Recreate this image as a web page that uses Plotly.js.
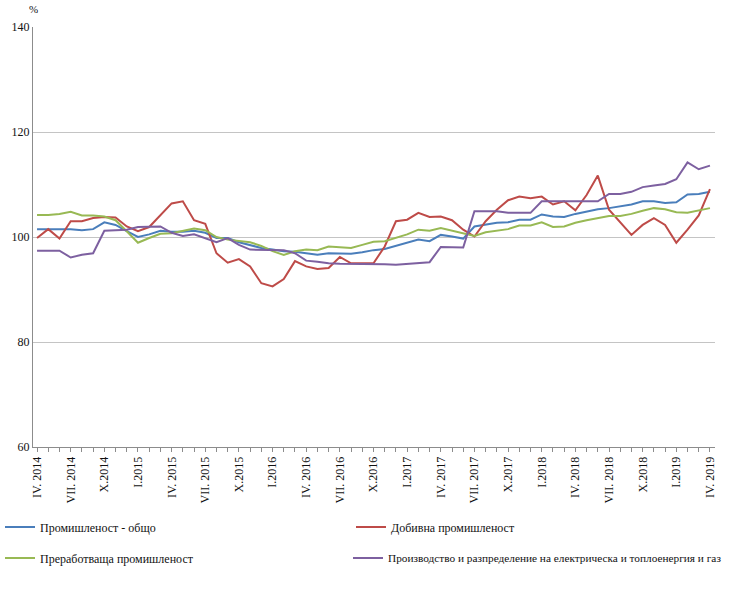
<!DOCTYPE html>
<html>
<head>
<meta charset="utf-8">
<script src="https://cdn.plot.ly/plotly-3.0.1.min.js"></script>
<style>html,body{margin:0;padding:0;background:#fff;}#chart{width:740px;height:594px;}</style>
</head>
<body>
<div id="chart"></div>
<script>
// Months IV.2014 .. IV.2019
const months = [
 "IV. 2014","V.2014","VI.2014","VII. 2014","VIII.2014","IX.2014","X.2014","XI.2014","XII.2014",
 "I.2015","II.2015","III.2015","IV. 2015","V.2015","VI.2015","VII. 2015","VIII.2015","IX.2015","X.2015","XI.2015","XII.2015",
 "I.2016","II.2016","III.2016","IV. 2016","V.2016","VI.2016","VII. 2016","VIII.2016","IX.2016","X.2016","XI.2016","XII.2016",
 "I.2017","II.2017","III.2017","IV. 2017","V.2017","VI.2017","VII. 2017","VIII.2017","IX.2017","X.2017","XI.2017","XII.2017",
 "I.2018","II.2018","III.2018","IV. 2018","V.2018","VI.2018","VII. 2018","VIII.2018","IX.2018","X.2018","XI.2018","XII.2018",
 "I.2019","II.2019","III.2019","IV. 2019"
];
// Shown tick labels (every third month); blank for the others
const tickLabels = months.map((m, i) => (i % 3 === 0 ? m : ""));

const seriesNames = [
 "Промишленост - общо",
 "Добивна промишленост",
 "Преработваща промишленост",
 "Производство и разпределение на електрическа и топлоенергия и газ"
];

const industryTotal = [
 101.5,101.5,101.5,101.5,101.3,101.5,102.8,102.3,101.1,100.0,100.5,101.2,101.0,101.0,101.2,100.8,
 99.8,99.8,99.0,98.4,97.9,97.6,97.3,97.2,96.9,96.6,96.9,96.9,96.8,97.1,97.5,97.7,98.3,98.9,99.5,99.2,
 100.4,100.1,99.7,102.0,102.4,102.7,102.8,103.3,103.3,104.3,103.9,103.8,104.4,104.9,105.3,105.5,105.8,
 106.2,106.8,106.8,106.5,106.6,108.1,108.2,108.6
];
const mining = [
 99.8,101.5,99.7,103.0,103.0,103.6,103.8,103.7,102.0,101.1,101.9,104.2,106.4,106.8,103.2,102.5,
 96.9,95.1,95.8,94.4,91.2,90.6,92.0,95.4,94.4,93.9,94.1,96.2,95.0,95.0,95.0,98.2,103.0,103.3,104.6,103.8,
 103.9,103.2,101.4,100.1,103.0,105.2,107.0,107.7,107.4,107.7,106.2,106.8,105.1,108.0,111.7,105.2,102.7,
 100.4,102.3,103.6,102.3,98.9,101.4,104.1,109.1
];
const manufacturing = [
 104.2,104.2,104.4,104.8,104.1,104.1,103.9,103.2,101.1,98.9,99.8,100.6,100.7,101.2,101.6,101.3,
 100.0,99.5,99.2,99.0,98.3,97.3,96.6,97.3,97.6,97.5,98.2,98.0,97.9,98.5,99.1,99.2,99.9,100.5,101.4,101.2,
 101.7,101.2,100.8,100.2,100.9,101.2,101.5,102.2,102.2,102.8,101.9,102.0,102.7,103.2,103.6,104.0,104.0,
 104.4,105.0,105.5,105.3,104.7,104.6,105.1,105.5
];
const energy = [
 97.4,97.4,97.4,96.1,96.6,96.9,101.2,101.3,101.4,101.9,102.0,102.0,100.8,100.2,100.5,99.8,
 99.0,99.8,98.5,97.6,97.6,97.6,97.5,96.9,95.5,95.3,95.0,94.9,94.9,94.9,94.9,94.8,94.7,94.9,95.0,95.2,
 98.1,98.1,98.0,104.9,104.9,104.9,104.6,104.6,104.6,106.8,106.8,106.8,106.8,106.8,106.8,108.2,108.2,
 108.6,109.5,109.8,110.1,111.0,114.2,112.9,113.6
];

const colors = ["#4A7EBB", "#BE4B48", "#98B954", "#7D60A0"];
const allValues = [industryTotal, mining, manufacturing, energy];
const legendIds = ["legend", "legend2", "legend3", "legend4"];

const traces = allValues.map((vals, k) => ({
  type: "scatter",
  mode: "lines",
  x: months,
  y: vals,
  name: seriesNames[k],
  line: { color: colors[k], width: 2 },
  legend: legendIds[k],
  hoverinfo: "x+y+name"
}));

const serif = "Liberation Serif, Times New Roman, serif";

function makeLegend(xPx, yPx, size) {
  return {
    orientation: "h",
    xref: "container",
    yref: "container",
    x: xPx / 740,
    y: 1 - yPx / 594,
    xanchor: "left",
    yanchor: "middle",
    font: { family: serif, size: size, color: "#111" },
    bgcolor: "rgba(0,0,0,0)",
    itemwidth: 30
  };
}

const layout = {
  width: 740,
  height: 594,
  margin: { l: 33, r: 25, t: 27, b: 147 },
  paper_bgcolor: "#ffffff",
  plot_bgcolor: "#ffffff",
  showlegend: true,
  font: { family: serif, size: 12, color: "#111" },
  xaxis: {
    type: "category",
    range: [-0.36, 60.45],
    tickmode: "array",
    tickvals: months,
    ticktext: tickLabels,
    tickangle: -90,
    ticks: "outside",
    ticklen: 4,
    tickcolor: "#8c8c8c",
    showgrid: false,
    showline: true,
    linecolor: "#8c8c8c",
    linewidth: 1,
    zeroline: false,
    tickfont: { family: serif, size: 12, color: "#111" }
  },
  yaxis: {
    range: [60, 140],
    tickmode: "linear",
    tick0: 60,
    dtick: 20,
    showgrid: true,
    gridcolor: "#c4c4c4",
    gridwidth: 1,
    showline: true,
    linecolor: "#8c8c8c",
    linewidth: 1,
    ticks: "",
    zeroline: false,
    tickfont: { family: serif, size: 12, color: "#111" }
  },
  legend: makeLegend(0, 527, 12),
  legend2: makeLegend(351, 527, 12),
  legend3: makeLegend(0, 558, 12),
  legend4: makeLegend(348, 558, 11.3),
  annotations: [{
    text: "%",
    xref: "paper",
    yref: "paper",
    x: 0,
    y: 1,
    yshift: 18,
    xanchor: "center",
    yanchor: "middle",
    showarrow: false,
    font: { family: serif, size: 11, color: "#111" }
  }]
};

Plotly.newPlot("chart", traces, layout, { displayModeBar: false, staticPlot: true });
</script>
</body>
</html>
